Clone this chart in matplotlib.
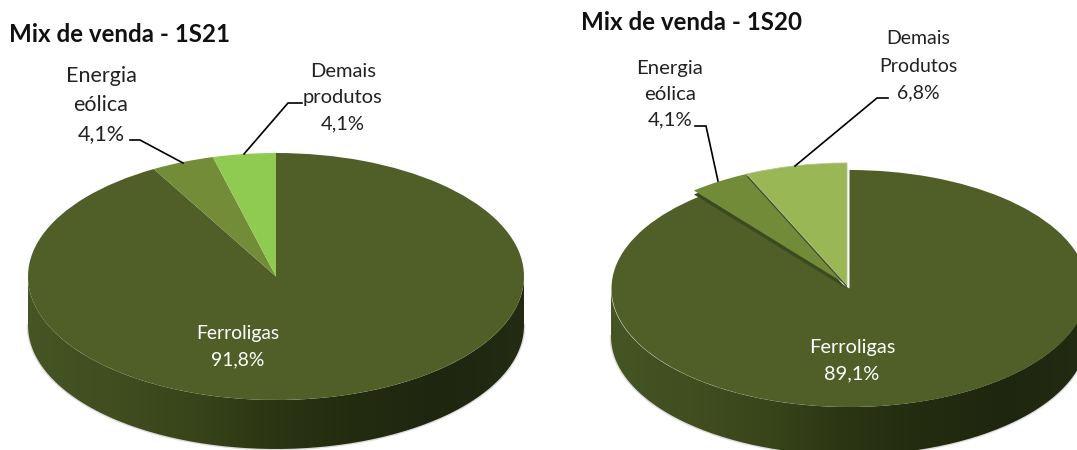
import numpy as np
import matplotlib
matplotlib.use('Agg')
import matplotlib.pyplot as plt
from matplotlib.colors import LinearSegmentedColormap
from matplotlib.patches import Wedge, PathPatch
from matplotlib.path import Path
from matplotlib.transforms import Affine2D

# Data
categories = ['Ferroligas', 'Energia eólica', 'Demais produtos']
values_1s21 = [91.8, 4.1, 4.1]
values_1s20 = [89.1, 4.1, 6.8]

W, H = 1077, 450
plt.rcParams['font.family'] = ['Lato', 'DejaVu Sans']

fig = plt.figure(figsize=(W / 100, H / 100), dpi=100)
ax = fig.add_axes([0, 0, 1, 1])
ax.set_axis_off()

side_cmap = LinearSegmentedColormap.from_list(
    'side', ['#465524', '#404e20', '#38451a', '#2b3413', '#232b0f', '#1f2610', '#232b12'])


def fy(y):
    # screen pixel y to data y
    return H - y


def draw_side(cx, cy, rx, ry, depth):
    t = np.radians(np.linspace(180, 360, 200))
    x = cx + rx * np.cos(t)
    y = fy(cy) + ry * np.sin(t)
    xs = np.concatenate([x, x[::-1]])
    ys = np.concatenate([y - depth, y[::-1]])
    path = Path(np.column_stack([xs, ys]))
    # soft grey halo under the rim, only on the lower outline
    ax.plot(x, y - depth, color='#777777', lw=2.0, alpha=0.25, zorder=1)
    img = ax.imshow(np.linspace(0, 1, 256).reshape(1, -1), cmap=side_cmap, aspect='auto',
                    extent=[cx - rx, cx + rx, fy(cy) - ry - depth, fy(cy) + ry], zorder=2)
    img.set_clip_path(PathPatch(path, transform=ax.transData))


def slice_angles(values):
    # slices run clockwise from 12 o'clock, the last one closes at 90 degrees
    angles = np.array(values) / sum(values) * 360
    ends = 90 - np.cumsum(angles)
    starts = ends + angles
    return starts, ends


def draw_slice(cx, cy, rx, ry, theta1, theta2, color, z, ec='none', lw=0):
    tr = Affine2D().scale(rx, ry).translate(cx, fy(cy)) + ax.transData
    ax.add_patch(Wedge((0, 0), 1, theta1, theta2, transform=tr, fc=color, ec=ec, lw=lw, zorder=z))


# Left pie
draw_side(276, 276.5, 248, 123.5, 49)
s, e = slice_angles(values_1s21)
for i, col in enumerate(['#505f28', '#738c38', '#8ecb50']):
    draw_slice(276, 276.5, 248, 123.5, e[i], s[i], col, 3)

# Right pie, small slices pulled out
draw_side(849, 288.5, 238, 118.5, 48)
s, e = slice_angles(values_1s20)
draw_slice(849.5, 288.5, 238, 118.5, e[0], s[0], '#505f28', 3)
draw_slice(847, 289, 242, 122, e[1], s[1], '#3c4a20', 4)
draw_slice(847, 285, 242, 122, e[1], s[1], '#728b38', 5)
draw_slice(847, 287.5, 242, 122, e[2], s[2], '#3f4d24', 6)
draw_slice(847, 285, 242, 122, e[2], s[2], '#9ab755', 7, ec='#b5c58c', lw=0.6)

ax.set_xlim(0, W)
ax.set_ylim(0, H)

# Titles
ax.text(9, fy(35), 'Mix de venda - 1S21', fontsize=17.4, fontweight='bold', color='#111111',
        va='center', ha='left', zorder=10)
ax.text(581, fy(23), 'Mix de venda - 1S20', fontsize=17.4, fontweight='bold', color='#111111',
        va='center', ha='left', zorder=10)


def pct(v):
    return f'{v:.1f}%'.replace('.', ',')


# Labels
ax.text(101, fy(105), 'Energia\neólica\n' + pct(values_1s21[1]), color='#222222', ha='center',
        va='center', fontsize=15.5, linespacing=1.55, zorder=10)
ax.text(343, fy(98), 'Demais\nprodutos\n' + pct(values_1s21[2]), color='#222222', ha='center',
        va='center', fontsize=14.5, linespacing=1.65, zorder=10)
ax.text(238, fy(347), 'Ferroligas\n' + pct(values_1s21[0]), color='white', ha='center',
        va='center', fontsize=13.9, linespacing=1.65, zorder=10)
ax.text(670, fy(94), 'Energia\neólica\n' + pct(values_1s20[1]), color='#222222', ha='center',
        va='center', fontsize=14.7, linespacing=1.6, zorder=10)
ax.text(918, fy(66), 'Demais\nProdutos\n' + pct(values_1s20[2]), color='#222222', ha='center',
        va='center', fontsize=14, linespacing=1.72, zorder=10)
ax.text(852, fy(361), 'Ferroligas\n' + pct(values_1s20[0]), color='white', ha='center',
        va='center', fontsize=14.4, linespacing=1.65, zorder=10)

# Leader lines
leaders = [
    ([130, 140, 183], [140, 140, 163]),
    ([302, 288, 244], [103, 103, 154]),
    ([695, 706, 718], [126, 126, 181]),
    ([888, 877, 795], [98, 98, 166]),
]
for lx, ly in leaders:
    ax.plot(lx, [fy(v) for v in ly], color='black', lw=1.2, zorder=9, solid_joinstyle='miter')

plt.savefig('out.png', dpi=100)
plt.close()
